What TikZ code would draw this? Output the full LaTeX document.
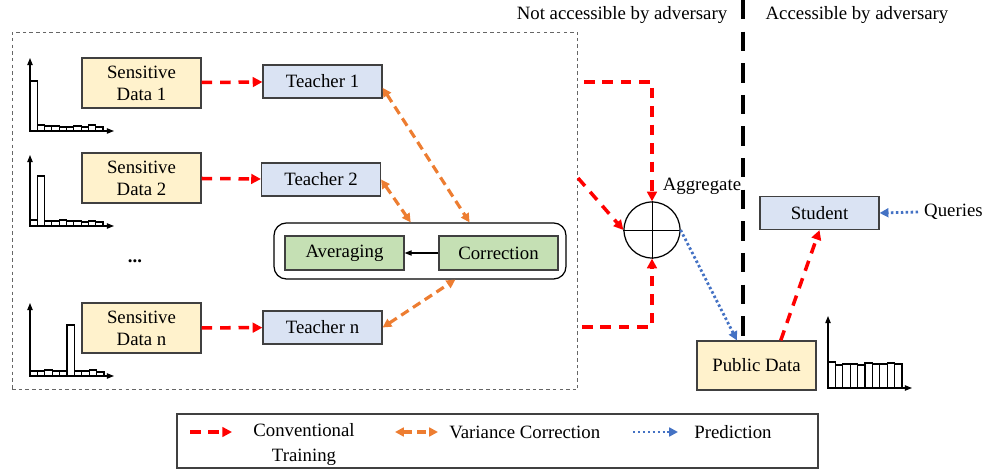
\documentclass[tikz,border=0pt]{standalone}
\usepackage{fontspec}
\setmainfont{Liberation Serif}
\usepackage{tikz}
\usetikzlibrary{arrows.meta}
\definecolor{sensyellow}{HTML}{FFF2CC}
\definecolor{teachblue}{HTML}{DAE3F3}
\definecolor{corrgreen}{HTML}{C5E0B4}
\definecolor{trainred}{HTML}{FF0000}
\definecolor{varorange}{HTML}{ED7D31}
\definecolor{predblue}{HTML}{4472C4}
\colorlet{boxline}{black!75}

\tikzset{
	plainbox/.style={draw=boxline, line width=0.7pt, minimum width=2.38cm, inner sep=0pt, align=center},
	databox/.style={plainbox, fill=sensyellow, minimum height=1cm},
	teacherbox/.style={plainbox, fill=teachblue, minimum height=0.66cm},
	corrbox/.style={plainbox, fill=corrgreen, minimum height=0.68cm},
	train/.style={trainred, line width=2pt, dash pattern=on 6pt off 4.5pt, -{Triangle[length=5.5pt,width=5.5pt]}},
	varcorr/.style={varorange, line width=1.8pt, dash pattern=on 5pt off 3pt, {Triangle[length=5pt,width=5pt]}-{Triangle[length=5pt,width=5pt]}},
	predict/.style={predblue, line width=1.6pt, dash pattern=on 1.4pt off 1.4pt, -{Triangle[length=5pt,width=5pt]}},
	histbar/.style={draw, line width=0.6pt, fill=white},
	histaxis/.style={line width=0.7pt, -{Triangle[length=4pt,width=3pt]}},
}

\begin{document}
\begin{tikzpicture}[x=0.02cm, y=-0.02cm, font=\fontsize{10.7}{12.5}\selectfont]
		\useasboundingbox (0,0) rectangle (987,472);
		\node[draw=black!60, dash pattern=on 2pt off 1.8pt, line width=0.6pt, minimum width=11.32cm, minimum height=7.16cm] (privzone) at (295,211) {};
		\node (notacc) at (622,15) {Not accessible by adversary};
		\node (acc) at (857,15) {Accessible by adversary};
		\node[databox] (sens1) at (141.5,83) {Sensitive\\Data 1};
		\node[databox] (sens2) at (141.5,178) {Sensitive\\Data 2};
		\node[databox] (sensn) at (141.5,328) {Sensitive\\Data n};
		\node[teacherbox] (teach1) at (322.5,81.5) {Teacher 1};
		\node[teacherbox] (teach2) at (321,179.5) {Teacher 2};
		\node[teacherbox] (teachn) at (322.5,327.5) {Teacher n};
		\node (dots) at (135,261) {\textbf{...}};
		\node[draw, line width=0.7pt, rounded corners=7pt, minimum width=5.84cm, minimum height=1.12cm] (vcbox) at (420,251) {};
		\node[corrbox] (avg) at (344.5,253) {Averaging};
		\node[corrbox] (corr) at (498.5,253) {Correction};
		\node[circle, draw, line width=0.7pt, minimum size=1.12cm, inner sep=0pt] (agg) at (652,230) {};
		\node (agglabel) at (702,186) {Aggregate};
		\node[teacherbox] (student) at (819.5,213) {Student};
		\node[databox, minimum height=0.98cm] (pub) at (756.5,365.5) {Public Data};
		\node[anchor=west] (queries) at (918,212) {Queries};
		\coordinate (divtop) at (743,0);
		\coordinate (in1) at (584,82);
		\coordinate (in2) at (578,178);
		\coordinate (in3) at (582,327);
		\draw[line width=2.8pt, dash pattern=on 11pt off 7pt] (divtop) -- (divtop |- pub.north);
		\draw[line width=0.5pt] (agg.north) -- (agg.south);
		\draw[line width=0.5pt] (agg.west) -- (agg.east);
		\draw[train] (sens1) -- (teach1);
		\draw[train] (sens2) -- (teach2);
		\draw[train] (sensn) -- (teachn);
		\draw[line width=0.6pt, -{Triangle[length=4pt,width=3pt]}] (corr) -- (avg);
		\draw[varcorr] (teach1.-6) -- (vcbox.30);
		\draw[varcorr] (teach2.east) -- (vcbox.108);
		\draw[varcorr] (teachn.east) -- (vcbox.-39);
		\draw[train] (in1) -| (agg.north);
		\draw[train] (in2) -- (agg.west);
		\draw[train] (in3) -| (agg.south);
		\draw[predict] (agg.east) -- (pub.128);
		\draw[train] (pub.46) -- (student.south);
		\draw[predict] (queries.west) -- (student.east);
		\foreach \h [count=\i from 0] in {50,6,5,5,4,4,5,4,6,4}
			\draw[histbar] (30+7.3*\i,131) rectangle ++(7.3,-\h);
		\draw[histaxis] (30,131) -- (30,58);
		\draw[histaxis] (30,131) -- (114,131);
		\foreach \h [count=\i from 0] in {6,50,5,5,6,5,5,4,5,4}
			\draw[histbar] (30+7.3*\i,226) rectangle ++(7.3,-\h);
		\draw[histaxis] (30,226) -- (30,155);
		\draw[histaxis] (30,226) -- (114,226);
		\foreach \h [count=\i from 0] in {5,5,6,5,5,51,5,5,6,4}
			\draw[histbar] (30+7.4*\i,376) rectangle ++(7.4,-\h);
		\draw[histaxis] (30,376) -- (30,303);
		\draw[histaxis] (30,376) -- (114,376);
		\foreach \h [count=\i from 0] in {26,23,24,24,23,25,24,24,25,24}
			\draw[histbar] (828+7.4*\i,388) rectangle ++(7.4,-\h);
		\draw[histaxis] (828,388) -- (828,316);
		\draw[histaxis] (828,388) -- (912,388);
		\node[draw=boxline, line width=0.7pt, minimum width=12.82cm, minimum height=1.08cm] (legend) at (497.5,441) {};
		\coordinate (trainA) at (190,432);
		\coordinate (trainB) at (232,432);
		\coordinate (varA) at (395,432);
		\coordinate (varB) at (438,432);
		\coordinate (predA) at (633,432);
		\coordinate (predB) at (678,432);
		\draw[train] (trainA) -- (trainB);
		\draw[varcorr] (varA) -- (varB);
		\draw[predict] (predA) -- (predB);
		\node[anchor=north, align=center, inner sep=0pt] (trainlbl) at (304,423) {Conventional\\[2pt]Training};
		\node[anchor=west, inner sep=0pt] (varlbl) at (449,432) {Variance Correction};
		\node[anchor=west, inner sep=0pt] (predlbl) at (694,432) {Prediction};
\end{tikzpicture}
\end{document}
